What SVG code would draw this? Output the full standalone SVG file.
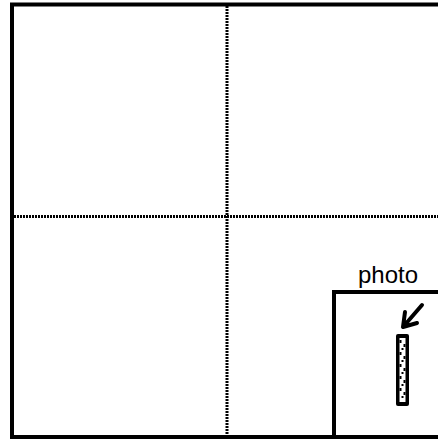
<svg xmlns="http://www.w3.org/2000/svg" width="438" height="439" viewBox="0 0 438 439">
<style>
.frame{fill:none;stroke:#000;stroke-width:4}
.grid{fill:none;stroke:#000;stroke-width:3;stroke-dasharray:2,1}
.lbl{font-family:"Liberation Sans",Arial,sans-serif;font-size:24px;fill:#000}
.arr{fill:none;stroke:#000;stroke-width:4;stroke-linecap:round;stroke-linejoin:round}
</style>
<rect width="438" height="439" fill="#fff"/>
<g id="frame">
<path class="frame" d="M438,4.5 H12 V437 H438"/>
</g>
<g id="grid">
<line class="grid" x1="227" y1="6" x2="227" y2="436"/>
<line class="grid" x1="14" y1="216.5" x2="438" y2="216.5"/>
</g>
<g id="photo">
<path class="frame" d="M438,292 H334 V437"/>
<text class="lbl" x="358" y="283">photo</text>
</g>
<g id="connectors">
<path class="arr" d="M422,305 L403,327 M405,312 L403,327 L417,323"/>
</g>
<g id="ruler">
<rect x="396" y="334" width="13" height="72" rx="2" fill="#000"/>
<rect x="399.5" y="338" width="6" height="64" fill="#fff"/>
<g fill="#000">
<rect x="399.5" y="340" width="2" height="3"/>
<rect x="403.5" y="344" width="2" height="3"/>
<rect x="401.5" y="348" width="2" height="2"/>
<rect x="399.5" y="352" width="2" height="3"/>
<rect x="403.5" y="356" width="2" height="3"/>
<rect x="401.5" y="360" width="2" height="2"/>
<rect x="399.5" y="364" width="2" height="3"/>
<rect x="403.5" y="368" width="2" height="3"/>
<rect x="401.5" y="372" width="2" height="2"/>
<rect x="399.5" y="376" width="2" height="3"/>
<rect x="403.5" y="380" width="2" height="3"/>
<rect x="401.5" y="384" width="2" height="2"/>
<rect x="399.5" y="388" width="2" height="3"/>
<rect x="403.5" y="392" width="2" height="3"/>
<rect x="401.5" y="396" width="2" height="2"/>
</g>
</g>
</svg>
